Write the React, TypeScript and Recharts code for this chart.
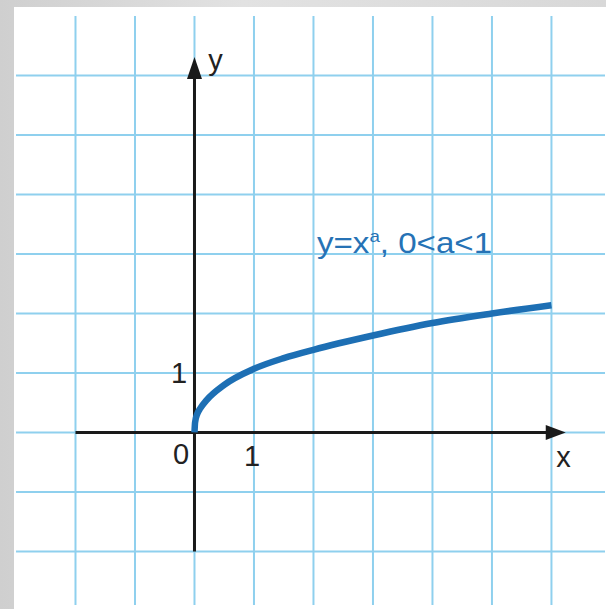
import {
  CartesianGrid,
  Line,
  LineChart,
  ReferenceDot,
  ReferenceLine,
  XAxis,
  YAxis,
} from "recharts";

// curve y = x^a (0<a<1)
const xValues = [0, 0.01, 0.05, 0.1, 0.2, 0.5, 1, 1.5, 2, 3, 4, 5, 6];
const yValues = [0, 0.17, 0.32, 0.41, 0.54, 0.8, 1.07, 1.25, 1.39, 1.63, 1.84, 2.0, 2.14];

const gridX = [-2, -1, 0, 1, 2, 3, 4, 5, 6];
const gridY = [-2, -1, 0, 1, 2, 3, 4, 5, 6];

// axis labels: text, data position, anchor
const axisLabels = [
  { text: "y", x: 0.23, y: 6.09, anchor: "start" },
  { text: "x", x: 6.08, y: -0.58, anchor: "start" },
  { text: "0", x: -0.09, y: -0.53, anchor: "end" },
  { text: "1", x: 0.97, y: -0.56, anchor: "middle" },
  { text: "1", x: -0.26, y: 0.83, anchor: "middle" },
];

const data = xValues.map((x, i) => ({ x, y: yValues[i] }));

const FONT = "'Liberation Sans', Arial, sans-serif";
const CURVE = "#1d6fb4";

const ArrowRight = (props: any) => {
  const { cx, cy } = props;
  return <polygon points={`${cx},${cy} ${cx - 20},${cy - 7.5} ${cx - 20},${cy + 7.5}`} fill="#1a1a1a" />;
};

const ArrowUp = (props: any) => {
  const { cx, cy } = props;
  return <polygon points={`${cx},${cy} ${cx - 7.5},${cy + 22} ${cx + 7.5},${cy + 22}`} fill="#1a1a1a" />;
};

const textShape = (text: string, anchor: string) => (props: any) => (
  <text x={props.cx} y={props.cy} textAnchor={anchor} fontFamily={FONT} fontSize={29} fill="#222">
    {text}
  </text>
);

const FormulaLabel = (props: any) => (
  <text
    x={props.cx}
    y={props.cy}
    fontFamily={FONT}
    fontSize={30}
    fill="#2672b5"
    textLength={175}
    lengthAdjust="spacingAndGlyphs"
  >
    <tspan>y=x</tspan>
    <tspan fontSize={17} dy={-11}>a</tspan>
    <tspan dy={11}>, 0&lt;a&lt;1</tspan>
  </text>
);

export default function App() {
  return (
    <div
      style={{
        position: "absolute",
        left: 0,
        top: 0,
        width: 606,
        height: 609,
        background: "linear-gradient(90deg, #cfcfcf, #e2e2e2 40%, #d8d8d8)",
        overflow: "hidden",
      }}
    >
      <div style={{ position: "absolute", left: 14, top: 7, right: 0, bottom: 0, background: "#fff" }} />
      <div style={{ position: "absolute", left: 0, top: 0 }}>
        <LineChart width={606} height={609} data={data} margin={{ top: 16, left: 16, right: 1, bottom: 4 }}>
          <XAxis type="number" dataKey="x" domain={[-3, 6.9]} ticks={gridX} hide allowDataOverflow />
          <YAxis type="number" domain={[-2.9, 7]} ticks={gridY} hide allowDataOverflow />
          <CartesianGrid
            stroke="#8fd0ee"
            strokeWidth={2}
            verticalValues={gridX}
            horizontalValues={gridY}
          />
          <ReferenceLine
            segment={[{ x: -2, y: 0 }, { x: 5.95, y: 0 }]}
            stroke="#1a1a1a"
            strokeWidth={3}
          />
          <ReferenceLine
            segment={[{ x: 0, y: -2 }, { x: 0, y: 5.95 }]}
            stroke="#1a1a1a"
            strokeWidth={3}
          />
          <ReferenceDot x={6.24} y={0} shape={ArrowRight} />
          <ReferenceDot x={0} y={6.31} shape={ArrowUp} />
          <Line
            type="monotone"
            dataKey="y"
            stroke={CURVE}
            strokeWidth={6.5}
            dot={false}
            activeDot={false}
            isAnimationActive={false}
          />
          {axisLabels.map((l, i) => (
            <ReferenceDot key={i} x={l.x} y={l.y} shape={textShape(l.text, l.anchor)} />
          ))}
          <ReferenceDot x={2.06} y={3.02} shape={FormulaLabel} />
        </LineChart>
      </div>
    </div>
  );
}
